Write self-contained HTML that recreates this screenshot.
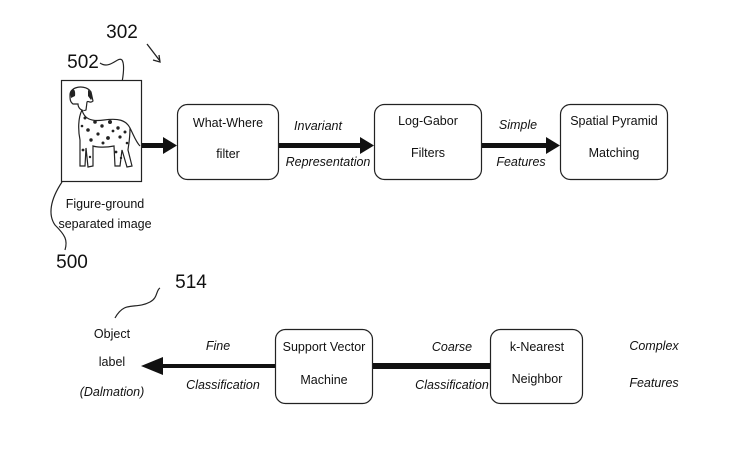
<!DOCTYPE html>
<html><head><style>
html,body{margin:0;padding:0;background:#fff}
svg text{font-family:"Liberation Sans",Arial,sans-serif;fill:#111}
</style></head><body>
<svg width="754" height="444" viewBox="0 0 754 444" xmlns="http://www.w3.org/2000/svg">
<g font-size="12.5" text-anchor="middle">
<text x="122" y="38" font-size="19">302</text>
<path d="M147 44 L160 61" stroke="#222" stroke-width="1.3" fill="none"/>
<path d="M153 60 L160 62 L159 55" stroke="#222" stroke-width="1.3" fill="none"/>
<text x="83" y="68" font-size="19">502</text>
<path d="M100 63 C110 70,118 56,122 60 C126 66,122 90,112 120" stroke="#222" stroke-width="1.2" fill="none"/>
<text x="72" y="268" font-size="19">500</text>
<path d="M62 182 C50 200,48 215,55 225 C65 235,68 240,65 250" stroke="#222" stroke-width="1.2" fill="none"/>
<text x="191" y="288" font-size="19">514</text>
<path d="M115 318 C125 300,135 310,150 302 C158 298,156 290,160 288" stroke="#222" stroke-width="1.2" fill="none"/>

<rect x="61.5" y="80.5" width="80" height="101" fill="#fff" stroke="#222" stroke-width="1.2"/>
<g stroke="#222" stroke-width="1.2" fill="#fff">
<path d="M70 95 C70 86,86 84,91 92 L93 101 C90 104,88 100,87 102 L86 110 C82 112,78 108,78 104 L73 104 C70 102,70 99,70 95 Z"/>
<path d="M82 110 C84 118,90 122,104 120 C118 118,126 120,130 128 C134 136,136 142,140 146 M130 128 C130 140,128 148,128 150 L132 166 L127 167 L122 150 L120 166 L115 166 L114 146 C104 148,96 147,93 146 L93 166 L88 167 L86 148 L85 166 L80 166 L80 140 C78 130,78 118,82 110"/>
</g>
<g fill="#222">
<path d="M70 92 C72 88,76 88,75 96 L71 98 Z"/><path d="M88 90 C92 92,93 98,91 100 L88 96 Z"/>
<circle cx="95" cy="122" r="1.8"/><circle cx="102" cy="126" r="1.7"/><circle cx="110" cy="122" r="2"/><circle cx="118" cy="128" r="1.7"/><circle cx="88" cy="130" r="1.8"/><circle cx="98" cy="134" r="1.6"/><circle cx="108" cy="138" r="1.9"/><circle cx="120" cy="137" r="1.6"/><circle cx="85" cy="118" r="1.5"/><circle cx="91" cy="140" r="1.7"/><circle cx="125" cy="132" r="1.5"/><circle cx="83" cy="150" r="1.4"/><circle cx="116" cy="152" r="1.4"/><circle cx="103" cy="143" r="1.5"/><circle cx="113" cy="131" r="1.4"/><circle cx="127" cy="143" r="1.3"/><circle cx="90" cy="157" r="1.2"/><circle cx="121" cy="158" r="1.2"/><circle cx="82" cy="126" r="1.3"/>
</g>
<text x="105" y="208">Figure-ground</text>
<text x="105" y="228">separated image</text>

<rect x="177.5" y="104.5" width="101" height="75" rx="10" fill="#fff" stroke="#222" stroke-width="1.2"/>
<text x="228" y="127">What-Where</text><text x="228" y="158">filter</text>
<rect x="374.5" y="104.5" width="107" height="75" rx="10" fill="#fff" stroke="#222" stroke-width="1.2"/>
<text x="428" y="125">Log-Gabor</text><text x="428" y="157">Filters</text>
<rect x="560.5" y="104.5" width="107" height="75" rx="10" fill="#fff" stroke="#222" stroke-width="1.2"/>
<text x="614" y="125">Spatial Pyramid</text><text x="614" y="157">Matching</text>

<g fill="#111">
<rect x="142" y="143" width="24" height="5"/><path d="M163 137 L177 145.5 L163 154 Z"/>
<rect x="279" y="143" width="84" height="5"/><path d="M360 137 L374 145.5 L360 154 Z"/>
<rect x="482" y="143" width="66" height="5"/><path d="M546 137 L560 145.5 L546 154 Z"/>
</g>
<g font-style="italic">
<text x="318" y="130">Invariant</text><text x="328" y="166">Representation</text>
<text x="518" y="129">Simple</text><text x="521" y="166">Features</text>
</g>

<rect x="275.5" y="329.5" width="97" height="74" rx="10" fill="#fff" stroke="#222" stroke-width="1.2"/>
<text x="324" y="351">Support Vector</text><text x="324" y="384">Machine</text>
<rect x="490.5" y="329.5" width="92" height="74" rx="10" fill="#fff" stroke="#222" stroke-width="1.2"/>
<text x="537" y="351">k-Nearest</text><text x="537" y="383">Neighbor</text>
<g fill="#111">
<rect x="373" y="363" width="117" height="6"/>
<rect x="160" y="364" width="115" height="4"/><path d="M141 366 L163 357 L163 375 Z"/>
</g>
<text x="112" y="338">Object</text><text x="112" y="366">label</text>
<text x="112" y="396" font-style="italic">(Dalmation)</text>
<g font-style="italic">
<text x="218" y="350">Fine</text><text x="223" y="389">Classification</text>
<text x="452" y="351">Coarse</text><text x="452" y="389">Classification</text>
<text x="654" y="350">Complex</text><text x="654" y="387">Features</text>
</g>
</g>
</svg>
</body></html>
